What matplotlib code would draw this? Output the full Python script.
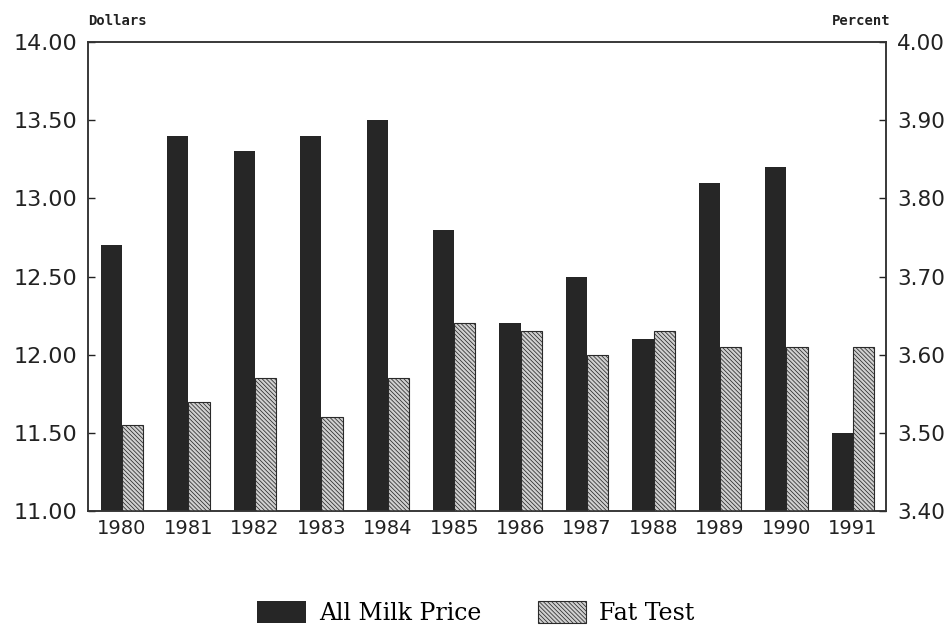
import numpy as np
import matplotlib
matplotlib.use("Agg")
from matplotlib import pyplot as plt

# values
years = ['1980', '1981', '1982', '1983', '1984', '1985',
         '1986', '1987', '1988', '1989', '1990', '1991']
milk_price = [12.70, 13.40, 13.30, 13.40, 13.50, 12.80,
              12.20, 12.50, 12.10, 13.10, 13.20, 11.50]
fat_test = [3.51, 3.54, 3.57, 3.52, 3.57, 3.64,
            3.63, 3.60, 3.63, 3.61, 3.61, 3.61]
left_ticks = [11.0, 11.5, 12.0, 12.5, 13.0, 13.5, 14.0]
right_ticks = [3.4, 3.5, 3.6, 3.7, 3.8, 3.9, 4.0]

plt.rcParams['hatch.linewidth'] = 0.55

fig = plt.figure(figsize=(9.52, 6.27), dpi=100)
ax = fig.add_axes([0.0924, 0.185, 0.8382, 0.748])
ax2 = ax.twinx()

x = np.arange(len(years))
w = 0.32

ax.bar(x - w / 2, np.array(milk_price) - 11.0, bottom=11.0, width=w,
       color='#262626', linewidth=0, label='All Milk Price')
ax2.bar(x + w / 2, np.array(fat_test) - 3.4, bottom=3.4, width=w,
        facecolor='#d0d0d0', edgecolor='#2a2a2a', linewidth=0.8,
        hatch='\\' * 8, label='Fat Test')

ax.set_xlim(-0.512, 11.497)
ax.set_ylim(11.0, 14.0)
ax2.set_ylim(3.4, 4.0)

ax.set_yticks(left_ticks)
ax.set_yticklabels(['%.2f' % v for v in left_ticks])
ax2.set_yticks(right_ticks)
ax2.set_yticklabels(['%.2f' % v for v in right_ticks])
ax.set_xticks(x)
ax.set_xticklabels(years)

ax.tick_params(axis='y', direction='in', length=5, width=1, pad=8,
               labelsize=16, colors='#222222')
ax2.tick_params(axis='y', direction='in', length=5, width=1, pad=8,
                labelsize=15.5, colors='#222222')
ax.tick_params(axis='x', length=0, pad=6, labelsize=14, colors='#222222')

for a in (ax, ax2):
    for s in a.spines.values():
        s.set_linewidth(1.1)
        s.set_color('#333333')

fig.text(0.0924, 0.956, 'Dollars', fontsize=10, fontweight='bold',
         family='DejaVu Sans Mono', color='#222222', ha='left', va='bottom')
fig.text(0.935, 0.956, 'Percent', fontsize=10, fontweight='bold',
         family='DejaVu Sans Mono', color='#222222', ha='right', va='bottom')

h1, l1 = ax.get_legend_handles_labels()
h2, l2 = ax2.get_legend_handles_labels()
fig.legend(h1 + h2, l1 + l2, loc='center', bbox_to_anchor=(0.5, 0.022),
           ncol=2, frameon=False, prop={'family': 'DejaVu Serif', 'size': 17},
           handlelength=2.05, handleheight=1.05, handletextpad=0.55,
           columnspacing=2.4)

plt.savefig('out.png', dpi=100)
